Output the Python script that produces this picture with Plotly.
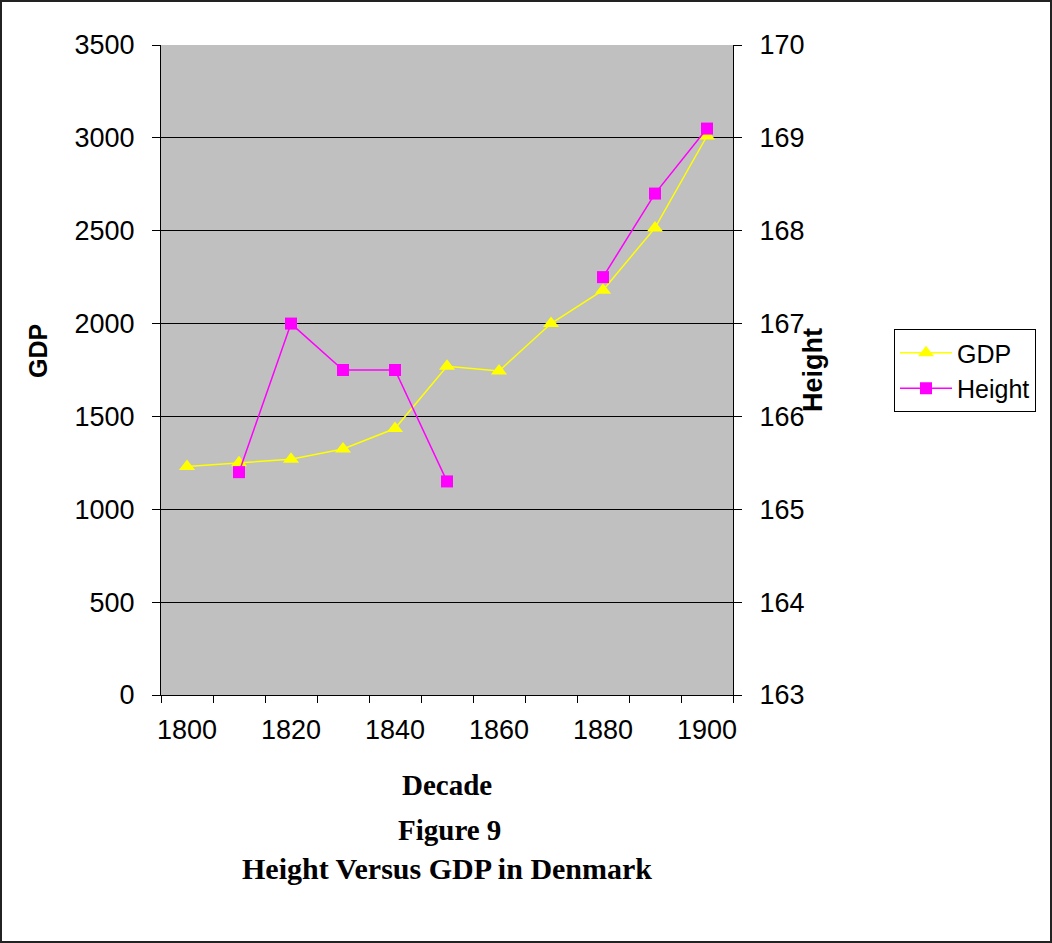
import plotly.graph_objects as go

decades = [1800, 1810, 1820, 1830, 1840, 1850, 1860, 1870, 1880, 1890, 1900]
gdp = [1230, 1250, 1270, 1325, 1435, 1770, 1745, 2000, 2180, 2515, 3010]
height = [None, 165.4, 167.0, 166.5, 166.5, 165.3, None, None, 167.5, 168.4, 169.1]
x_tick_labels = [1800, 1820, 1840, 1860, 1880, 1900]
gdp_ticks = [0, 500, 1000, 1500, 2000, 2500, 3000, 3500]
height_ticks = [163, 164, 165, 166, 167, 168, 169, 170]

W, H = 1052, 943
L, R, T, B = 161, 733, 45, 695
pw, ph = R - L, B - T

def px(x):
    return (x - L) / pw

def py(y):
    return (B - y) / ph

SANS = "Liberation Sans, Arial, sans-serif"
SERIF = "Liberation Serif, Times New Roman, serif"

fig = go.Figure()
fig.add_trace(go.Scatter(
    x=decades, y=gdp, name="GDP", mode="lines+markers",
    line=dict(color="#FFFF00", width=1.5),
    marker=dict(symbol="triangle-up", size=14, color="#FFFF00"),
    yaxis="y"))
fig.add_trace(go.Scatter(
    x=decades, y=height, name="Height", mode="lines+markers",
    line=dict(color="#FF00FF", width=1.5), connectgaps=False,
    marker=dict(symbol="square", size=12, color="#FF00FF"),
    yaxis="y2"))

TF = 27
fig.update_layout(
    width=W, height=H,
    margin=dict(l=L, r=W - R, t=T, b=H - B, pad=0),
    paper_bgcolor="white", plot_bgcolor="#C0C0C0",
    font=dict(family=SANS, size=TF, color="black"),
    showlegend=True,
    legend=dict(x=px(894), y=py(329), xanchor="left", yanchor="top",
                bordercolor="black", borderwidth=1, bgcolor="white",
                font=dict(family=SANS, size=25), itemwidth=52,
                tracegroupgap=0),
    xaxis=dict(range=[1795, 1905], tickmode="array", tickvals=x_tick_labels,
               ticks="", showgrid=False, zeroline=False, automargin=False,
               showline=True, linecolor="black", linewidth=1,
               tickfont=dict(family=SANS, size=TF), ticklabelstandoff=11,
               minor=dict(tick0=1795, dtick=10, ticks="outside", ticklen=7,
                          tickcolor="black", showgrid=False)),
    yaxis=dict(range=[0, 3500], tickmode="array", tickvals=gdp_ticks,
               ticks="outside", ticklen=8, tickcolor="black", automargin=False,
               showgrid=True, gridcolor="black", gridwidth=1, zeroline=False,
               showline=True, linecolor="black", linewidth=1,
               tickfont=dict(family=SANS, size=TF), ticklabelstandoff=12),
    yaxis2=dict(range=[163, 170], tickmode="array", tickvals=height_ticks,
                overlaying="y", side="right", automargin=False,
                ticks="outside", ticklen=8, tickcolor="black",
                showgrid=False, zeroline=False,
                showline=True, linecolor="black", linewidth=1,
                tickfont=dict(family=SANS, size=TF), ticklabelstandoff=12),
)

annotations = [
    dict(text="<b>GDP</b>", x=px(38), y=py(351), textangle=-90,
         font=dict(family=SANS, size=25)),
    dict(text="<b>Height</b>", x=px(813), y=py(370), textangle=-90,
         font=dict(family=SANS, size=27)),
    dict(text="<b>Decade</b>", x=px(447), y=py(785),
         font=dict(family=SERIF, size=29)),
    dict(text="<b>Figure 9</b>", x=px(449), y=py(830),
         font=dict(family=SERIF, size=29)),
    dict(text="<b>Height Versus GDP in Denmark</b>", x=px(447), y=py(868),
         font=dict(family=SERIF, size=30)),
]
for a in annotations:
    a.update(xref="paper", yref="paper", showarrow=False,
             xanchor="center", yanchor="middle")
fig.update_layout(annotations=annotations)

fig.add_shape(type="rect", xref="paper", yref="paper",
              x0=px(1), x1=px(1051), y0=py(942), y1=py(1),
              line=dict(color="#222222", width=2), fillcolor="rgba(0,0,0,0)")

fig.write_html("out.html")
